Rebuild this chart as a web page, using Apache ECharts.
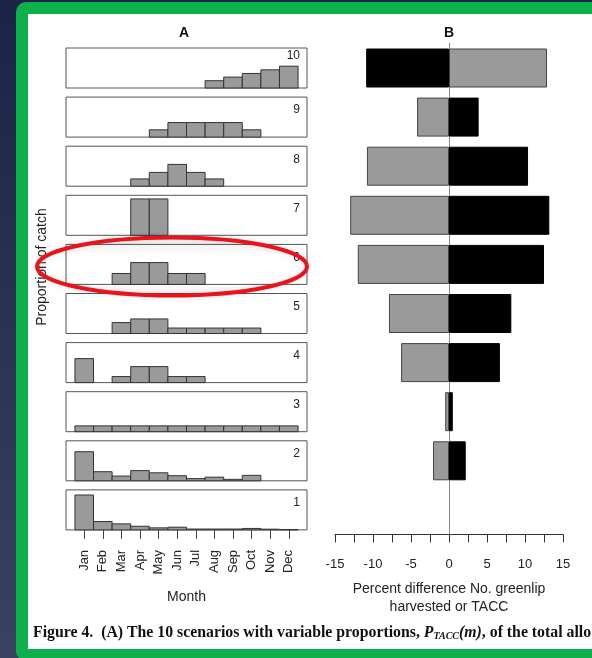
<!DOCTYPE html>
<html>
<head>
<meta charset="utf-8">
<script src="https://cdn.jsdelivr.net/npm/echarts@6/dist/echarts.min.js"></script>
<style>
  html, body { margin: 0; padding: 0; width: 592px; height: 658px; overflow: hidden; }
  body { background: linear-gradient(to bottom, #1b2444 0%, #2a3352 50%, #3a4262 100%); position: relative; }
  #frame { position: absolute; left: 16px; top: 2px; width: 800px; height: 659px; box-sizing: border-box;
           border: 12px solid #0db04b; border-radius: 10px; background: #ffffff; }
  #chart { position: absolute; left: 0; top: 0; width: 592px; height: 658px; }
</style>
</head>
<body>
<div id="frame"></div>
<div id="chart"></div>
<script>
// ---------------- data ----------------
const months = ['Jan','Feb','Mar','Apr','May','Jun','Jul','Aug','Sep','Oct','Nov','Dec'];
const scenarioNames = ['1','2','3','4','5','6','7','8','9','10'];

// Panel A: proportion of catch by month for each scenario
const scen1  = [0.48, 0.115, 0.083, 0.05, 0.028, 0.037, 0.012, 0.012, 0.012, 0.02, 0.01, 0.005];
const scen2  = [0.40, 0.125, 0.065, 0.14, 0.11, 0.07, 0.03, 0.05, 0.02, 0.075, 0, 0];
const scen3  = [0.08, 0.08, 0.08, 0.08, 0.08, 0.08, 0.08, 0.08, 0.08, 0.08, 0.08, 0.08];
const scen4  = [0.33, 0, 0.083, 0.22, 0.22, 0.083, 0.083, 0, 0, 0, 0, 0];
const scen5  = [0, 0, 0.15, 0.20, 0.20, 0.075, 0.075, 0.075, 0.075, 0.075, 0, 0];
const scen6  = [0, 0, 0.15, 0.30, 0.30, 0.15, 0.15, 0, 0, 0, 0, 0];
const scen7  = [0, 0, 0, 0.50, 0.50, 0, 0, 0, 0, 0, 0, 0];
const scen8  = [0, 0, 0, 0.10, 0.19, 0.30, 0.19, 0.10, 0, 0, 0, 0];
const scen9  = [0, 0, 0, 0, 0.10, 0.20, 0.20, 0.20, 0.20, 0.10, 0, 0];
const scen10 = [0, 0, 0, 0, 0, 0, 0, 0.10, 0.15, 0.20, 0.25, 0.30];

// Panel B: percent difference (scenarios 1..10)
const pctGrey  = [0, -2.1, -0.5, -6.3, -7.9, -12.0, -13.0, -10.8, -4.2, 12.9];
const pctBlack = [0, 2.2, 0.5, 6.7, 8.2, 12.5, 13.2, 10.4, 3.9, -10.9];

// ---------------- layout ----------------
const scenTop = [scen10, scen9, scen8, scen7, scen6, scen5, scen4, scen3, scen2, scen1];
const labelTop = ['10','9','8','7','6','5','4','3','2','1'];
const boxLeft = 66, boxWidth = 241, boxTop0 = 48, rowStep = 49.1, boxH = 40;
const xMin = 0.02, xMax = 12.98, yMaxA = 0.55;
const unit = boxWidth / (xMax - xMin);
const mgLeft = boxLeft + (0.5 - xMin) * unit, mgWidth = 12 * unit;
const FONT = 'Liberation Sans, Arial, sans-serif';
const SERIF = 'Liberation Serif, Times New Roman, serif';

const grids = [], xAxes = [], yAxes = [], series = [], graphics = [];

function histItem(params, api) {
  const m = api.value(0), v = api.value(1);
  const p0 = api.coord([m - 0.5, v]);
  const p1 = api.coord([m + 0.5, 0]);
  return {
    type: 'rect',
    shape: { x: p0[0], y: p0[1], width: p1[0] - p0[0], height: p1[1] - p0[1] },
    style: { fill: '#9a9a9a', stroke: '#333333', lineWidth: 1 }
  };
}

for (let k = 0; k < 10; k++) {
  const top = boxTop0 + rowStep * k;
  grids.push({ left: boxLeft, top: top, width: boxWidth, height: boxH, show: true,
               borderColor: '#555555', borderWidth: 1, backgroundColor: 'transparent' });
  xAxes.push({ gridIndex: k, type: 'value', min: xMin, max: xMax, show: false });
  yAxes.push({ gridIndex: k, type: 'value', min: 0, max: yMaxA, show: false });
  series.push({
    type: 'custom', xAxisIndex: k, yAxisIndex: k, renderItem: histItem,
    data: scenTop[k].map((v, i) => [i + 1, v]).filter(d => d[1] > 0),
    silent: true
  });
  graphics.push({ type: 'text', x: boxLeft + boxWidth - 7, y: top + (k === 0 ? 8 : 13),
    style: { text: labelTop[k], font: '12px ' + FONT, fill: '#222', textAlign: 'right', textVerticalAlign: 'middle' } });
}

// month axis (grid 10) under the bottom panel
const bottomTop = boxTop0 + rowStep * 9;
grids.push({ left: mgLeft, top: bottomTop, width: mgWidth, height: boxH, show: false });
xAxes.push({ gridIndex: 10, type: 'category', data: months, boundaryGap: true,
  axisLine: { show: false },
  axisTick: { show: true, alignWithLabel: true, length: 9, lineStyle: { color: '#444' } },
  axisLabel: { rotate: 90, margin: 20, fontSize: 13, color: '#222', fontFamily: FONT, interval: 0 },
  splitLine: { show: false },
  name: 'Month', nameLocation: 'middle', nameGap: 60,
  nameTextStyle: { fontSize: 14, color: '#222', fontFamily: FONT } });
yAxes.push({ gridIndex: 10, type: 'value', show: false, min: 0, max: 1 });

// panel B (grid 11)
const zeroToGap = arr => arr.map(v => (v === 0 ? '-' : v));
grids.push({ left: 335, top: boxTop0 - (rowStep - boxH) / 2, width: 228, height: rowStep * 10, show: false });
xAxes.push({ gridIndex: 11, type: 'value', min: -15, max: 15, interval: 2.5,
  axisLine: { show: true, onZero: false, lineStyle: { color: '#333', width: 1 } },
  axisTick: { show: true, length: 8, lineStyle: { color: '#333' } },
  axisLabel: { margin: 23, fontSize: 13, color: '#222', fontFamily: FONT,
    formatter: v => (Math.abs(v % 5) < 1e-9 ? String(v) : '') },
  splitLine: { show: false },
  name: 'Percent difference No. greenlip\nharvested or TACC', nameLocation: 'middle', nameGap: 46,
  nameTextStyle: { fontSize: 14, color: '#222', fontFamily: FONT, lineHeight: 18 } });
yAxes.push({ gridIndex: 11, type: 'category', data: scenarioNames,
  axisLine: { show: true, onZero: true, lineStyle: { color: '#888', width: 1 } },
  axisTick: { show: false }, axisLabel: { show: false }, splitLine: { show: false } });
series.push({ name: 'grey', type: 'bar', xAxisIndex: 11, yAxisIndex: 11, data: zeroToGap(pctGrey),
  barWidth: 39, barGap: '-100%', silent: true,
  itemStyle: { color: '#9a9a9a', borderColor: '#444', borderWidth: 1 } });
series.push({ name: 'black', type: 'bar', xAxisIndex: 11, yAxisIndex: 11, data: zeroToGap(pctBlack),
  barWidth: 39, barGap: '-100%', silent: true,
  itemStyle: { color: '#000000', borderColor: '#000000', borderWidth: 1 } });

// titles and labels
graphics.push({ type: 'text', x: 184, y: 33,
  style: { text: 'A', font: 'bold 14px ' + FONT, fill: '#111', textAlign: 'center', textVerticalAlign: 'middle' } });
graphics.push({ type: 'text', x: 449, y: 33,
  style: { text: 'B', font: 'bold 14px ' + FONT, fill: '#111', textAlign: 'center', textVerticalAlign: 'middle' } });
graphics.push({ type: 'text', x: 42, y: 267, rotation: Math.PI / 2,
  style: { text: 'Proportion of catch', font: '14px ' + FONT, fill: '#222', textAlign: 'center', textVerticalAlign: 'middle' } });

// red annotation ellipse
graphics.push({ type: 'ellipse', z: 100,
  shape: { cx: 172, cy: 266.5, rx: 135, ry: 29 },
  style: {
    fill: { type: 'linear', x: 0, y: 0, x2: 0, y2: 1, colorStops: [
      { offset: 0, color: 'rgba(0,0,0,0.07)' }, { offset: 0.35, color: 'rgba(0,0,0,0)' },
      { offset: 0.75, color: 'rgba(0,0,0,0)' }, { offset: 1, color: 'rgba(0,0,0,0.05)' } ] },
    stroke: '#e8141c', lineWidth: 4,
    shadowBlur: 6, shadowColor: 'rgba(0,0,0,0.12)' } });

// caption
graphics.push({ type: 'text', x: 33, y: 633, z: 50,
  style: {
    text: '{b|Figure 4.  (A) The 10 scenarios with variable proportions, }{i|P}{s|TACC}{i|(m)}{b|, of the total allo}',
    textVerticalAlign: 'middle',
    rich: {
      b: { font: 'bold 15.8px ' + SERIF, fill: '#111', verticalAlign: 'middle' },
      i: { font: 'italic bold 15.8px ' + SERIF, fill: '#111', verticalAlign: 'middle' },
      s: { font: 'italic bold 10px ' + SERIF, fill: '#111', verticalAlign: 'bottom', padding: [7, 0, 0, 0] }
    }
  } });

const chart = echarts.init(document.getElementById('chart'), null, { renderer: 'canvas' });
chart.setOption({
  backgroundColor: 'transparent',
  animation: false,
  textStyle: { fontFamily: FONT },
  grid: grids, xAxis: xAxes, yAxis: yAxes, series: series,
  graphic: graphics
});
</script>
</body>
</html>
